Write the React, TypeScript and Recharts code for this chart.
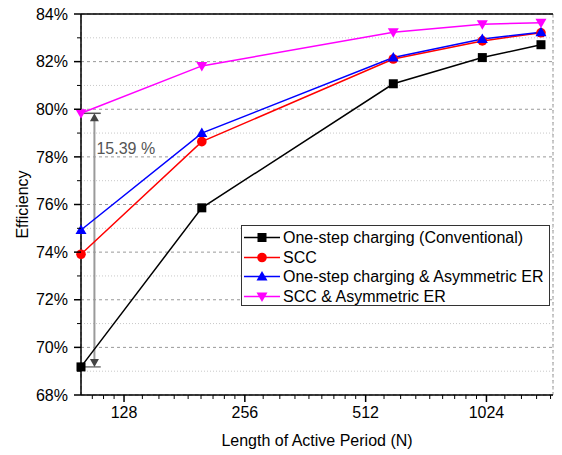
import { LineChart, Line, XAxis, YAxis, CartesianGrid, Legend, ReferenceLine } from 'recharts'

// active period lengths (N) and efficiencies in %
const N = [100, 200, 600, 1000, 1400]
const CONVENTIONAL = [69.18, 75.86, 81.07, 82.17, 82.71]
const SCC = [73.91, 78.64, 82.11, 82.87, 83.21]
const ONE_STEP_ASYM = [74.93, 79.0, 82.17, 82.95, 83.23]
const SCC_ASYM = [79.83, 81.82, 83.23, 83.57, 83.63]

const X_DOMAIN = [100, 1500]
const X_TICKS = [128, 256, 512, 1024]
const X_MINOR = [
  106.7, 113.8, 120.9,
  142.2, 156.4, 170.7, 184.9, 199.1, 213.3, 227.6, 241.8,
  284.4, 312.9, 341.3, 369.8, 398.2, 426.7, 455.1, 483.6,
  568.9, 625.8, 682.7, 739.6, 796.4, 853.3, 910.2, 967.1,
  1137.8, 1251.6, 1365.3, 1479.1,
]
const Y_DOMAIN = [68, 84]
const Y_TICKS = [68, 70, 72, 74, 76, 78, 80, 82, 84]
const Y_MINOR = [69, 71, 73, 75, 77, 79, 81, 83]

// gain annotation between the two series at N = 100
const GAIN_LABEL = '15.39 %'
const GAIN_X = 108
const GAIN_TOP = SCC_ASYM[0]
const GAIN_BOTTOM = CONVENTIONAL[0]

const FONT = '"Liberation Sans", Arial, Helvetica, sans-serif'

type Shape = 'square' | 'circle' | 'up' | 'down'

const SERIES: { key: string; name: string; color: string; shape: Shape }[] = [
  { key: 'conv', name: 'One-step charging (Conventional)', color: '#000000', shape: 'square' },
  { key: 'scc', name: 'SCC', color: '#ff0000', shape: 'circle' },
  { key: 'asym', name: 'One-step charging & Asymmetric ER', color: '#0000ff', shape: 'up' },
  { key: 'sccAsym', name: 'SCC & Asymmetric ER', color: '#ff00ff', shape: 'down' },
]

const data = N.map((n, i) => ({
  n,
  conv: CONVENTIONAL[i],
  scc: SCC[i],
  asym: ONE_STEP_ASYM[i],
  sccAsym: SCC_ASYM[i],
}))

const X_ALL = [...X_TICKS, ...X_MINOR].sort((a, b) => a - b)
const Y_ALL = [...Y_TICKS, ...Y_MINOR].sort((a, b) => a - b)

function Marker({ cx, cy, shape, color }: { cx: number; cy: number; shape: Shape; color: string }) {
  if (cx == null || cy == null) return null
  switch (shape) {
    case 'square':
      return <rect x={cx - 4.5} y={cy - 4.5} width={9} height={9} fill={color} />
    case 'circle':
      return <circle cx={cx} cy={cy} r={4.8} fill={color} />
    case 'up':
      return <polygon points={`${cx},${cy - 5.5} ${cx + 5.5},${cy + 4} ${cx - 5.5},${cy + 4}`} fill={color} />
    default:
      return <polygon points={`${cx},${cy + 5.5} ${cx + 5.5},${cy - 4} ${cx - 5.5},${cy - 4}`} fill={color} />
  }
}

// tick mark (long for major, short for minor) plus label on labelled sides
const TICK = 7
const MINOR_LEN = 4

function AxisTick(props: any) {
  const { x, y, payload, side } = props
  const v = payload.value
  const major = side === 'bottom' || side === 'top' ? X_TICKS.includes(v) : Y_TICKS.includes(v)
  const len = major ? TICK : MINOR_LEN
  const sw = major ? 1.5 : 1
  if (side === 'bottom') {
    const ay = y - TICK
    return (
      <g>
        <line x1={x} y1={ay} x2={x} y2={ay + len} stroke="#000" strokeWidth={sw} />
        {major && (
          <text x={x} y={ay + TICK + 5} dy="0.71em" textAnchor="middle" fill="#000" fontSize={16} fontFamily={FONT}>{v}</text>
        )}
      </g>
    )
  }
  if (side === 'top') {
    const ay = y + TICK
    return <line x1={x} y1={ay} x2={x} y2={ay - len} stroke="#000" strokeWidth={sw} />
  }
  if (side === 'left') {
    const ax = x + TICK
    return (
      <g>
        <line x1={ax} y1={y} x2={ax - len} y2={y} stroke="#000" strokeWidth={sw} />
        {major && (
          <text x={ax - TICK - 6} y={y} dy="0.355em" textAnchor="end" fill="#000" fontSize={16} fontFamily={FONT}>{`${v}%`}</text>
        )}
      </g>
    )
  }
  const ax = x - TICK
  return <line x1={ax} y1={y} x2={ax + len} y2={y} stroke="#000" strokeWidth={sw} />
}

function GainArrow(props: any) {
  const { x1, y1, y2 } = props
  const top = Math.min(y1, y2)
  const bottom = Math.max(y1, y2)
  return (
    <g>
      <line x1={x1} y1={top + 6} x2={x1} y2={bottom - 6} stroke="#9a9a9a" strokeWidth={2} />
      <polygon points={`${x1},${top} ${x1 + 4.5},${top + 8} ${x1 - 4.5},${top + 8}`} fill="#444" />
      <polygon points={`${x1},${bottom} ${x1 + 4.5},${bottom - 8} ${x1 - 4.5},${bottom - 8}`} fill="#444" />
      <text x={x1 + 2} y={top + 41} fill="#555" fontSize={16} fontFamily={FONT}>
        {GAIN_LABEL}
      </text>
    </g>
  )
}

function LegendBox() {
  return (
    <div
      style={{
        width: 309,
        height: 81,
        boxSizing: 'border-box',
        border: '1px solid #333',
        background: '#fff',
        paddingTop: 2,
        fontFamily: FONT,
      }}
    >
      {SERIES.map((s) => (
        <div key={s.key} style={{ display: 'flex', alignItems: 'center', height: 19.6 }}>
          <svg width={41} height={19} style={{ display: 'block' }}>
            <line x1={2} y1={9.5} x2={38} y2={9.5} stroke={s.color} strokeWidth={1.5} />
            <Marker cx={20} cy={9.5} shape={s.shape} color={s.color} />
          </svg>
          <span style={{ fontSize: 16, lineHeight: '19px', color: '#000', whiteSpace: 'nowrap' }}>{s.name}</span>
        </div>
      ))}
    </div>
  )
}

const axisLine = { stroke: '#000', strokeWidth: 1.5 }

export default function App() {
  return (
    <div style={{ position: 'absolute', left: 0, top: 0, width: 562, height: 455, background: '#fff', fontFamily: FONT }}>
      <LineChart width={562} height={455} data={data} margin={{ top: 13, right: 9, bottom: 0, left: 0 }}>
        {/* hidden axes that only feed the two grids */}
        <XAxis xAxisId="xg" type="number" scale="log" domain={X_DOMAIN} allowDataOverflow ticks={X_TICKS} interval={0} hide />
        <XAxis xAxisId="xgm" type="number" scale="log" domain={X_DOMAIN} allowDataOverflow ticks={X_MINOR} interval={0} hide />
        <YAxis yAxisId="yg" type="number" domain={Y_DOMAIN} allowDataOverflow ticks={Y_TICKS} interval={0} hide />
        <YAxis yAxisId="ygm" type="number" domain={Y_DOMAIN} allowDataOverflow ticks={Y_MINOR} interval={0} hide />

        <XAxis xAxisId="x" dataKey="n" type="number" scale="log" domain={X_DOMAIN} ticks={X_ALL} interval={0}
          orientation="bottom" height={60} tick={(p: any) => <AxisTick {...p} side="bottom" />} tickSize={TICK} tickMargin={0}
          tickLine={false} axisLine={axisLine}
          label={{ value: 'Length of Active Period (N)', position: 'insideBottom', offset: 9, fill: '#000', fontSize: 16, fontFamily: FONT }} />
        <XAxis xAxisId="xt" type="number" scale="log" domain={X_DOMAIN} allowDataOverflow ticks={X_ALL} interval={0}
          orientation="top" height={1} tick={(p: any) => <AxisTick {...p} side="top" />} tickSize={TICK} tickMargin={0}
          tickLine={false} axisLine={axisLine} />
        <YAxis yAxisId="y" type="number" domain={Y_DOMAIN} ticks={Y_ALL} interval={0}
          orientation="left" width={81} tick={(p: any) => <AxisTick {...p} side="left" />} tickSize={TICK} tickMargin={0}
          tickLine={false} axisLine={axisLine}
          label={{ value: 'Efficiency', angle: -90, position: 'insideLeft', offset: 22, fill: '#000', fontSize: 16, fontFamily: FONT, style: { textAnchor: 'middle' } }} />
        <YAxis yAxisId="yr" type="number" domain={Y_DOMAIN} allowDataOverflow ticks={Y_ALL} interval={0}
          orientation="right" width={0} tick={(p: any) => <AxisTick {...p} side="right" />} tickSize={TICK} tickMargin={0}
          tickLine={false} axisLine={axisLine} />

        <CartesianGrid xAxisId="xgm" yAxisId="ygm" stroke="#c8c8c8" strokeDasharray="1 2" />
        <CartesianGrid xAxisId="xg" yAxisId="yg" stroke="#999" strokeDasharray="3 3" />

        <ReferenceLine xAxisId="x" yAxisId="y" segment={[{ x: 100, y: GAIN_TOP }, { x: 112, y: GAIN_TOP }]}
          stroke="#555" strokeWidth={1.5} />
        <ReferenceLine xAxisId="x" yAxisId="y" segment={[{ x: 100, y: GAIN_BOTTOM }, { x: 112, y: GAIN_BOTTOM }]}
          stroke="#777" strokeWidth={1.5} />
        <ReferenceLine xAxisId="x" yAxisId="y" segment={[{ x: GAIN_X, y: GAIN_BOTTOM }, { x: GAIN_X, y: GAIN_TOP }]}
          shape={GainArrow} />

        {SERIES.map((s) => (
          <Line
            key={s.key}
            xAxisId="x"
            yAxisId="y"
            type="linear"
            dataKey={s.key}
            name={s.name}
            stroke={s.color}
            strokeWidth={1.5}
            dot={(p: any) => <Marker key={`${s.key}-${p.index}`} cx={p.cx} cy={p.cy} shape={s.shape} color={s.color} />}
            activeDot={false}
            isAnimationActive={false}
          />
        ))}

        <Legend layout="vertical" align="center" verticalAlign="middle" content={() => <LegendBox />}
          wrapperStyle={{ left: 241, top: 225, width: 309, height: 81 }} />
      </LineChart>
    </div>
  )
}
